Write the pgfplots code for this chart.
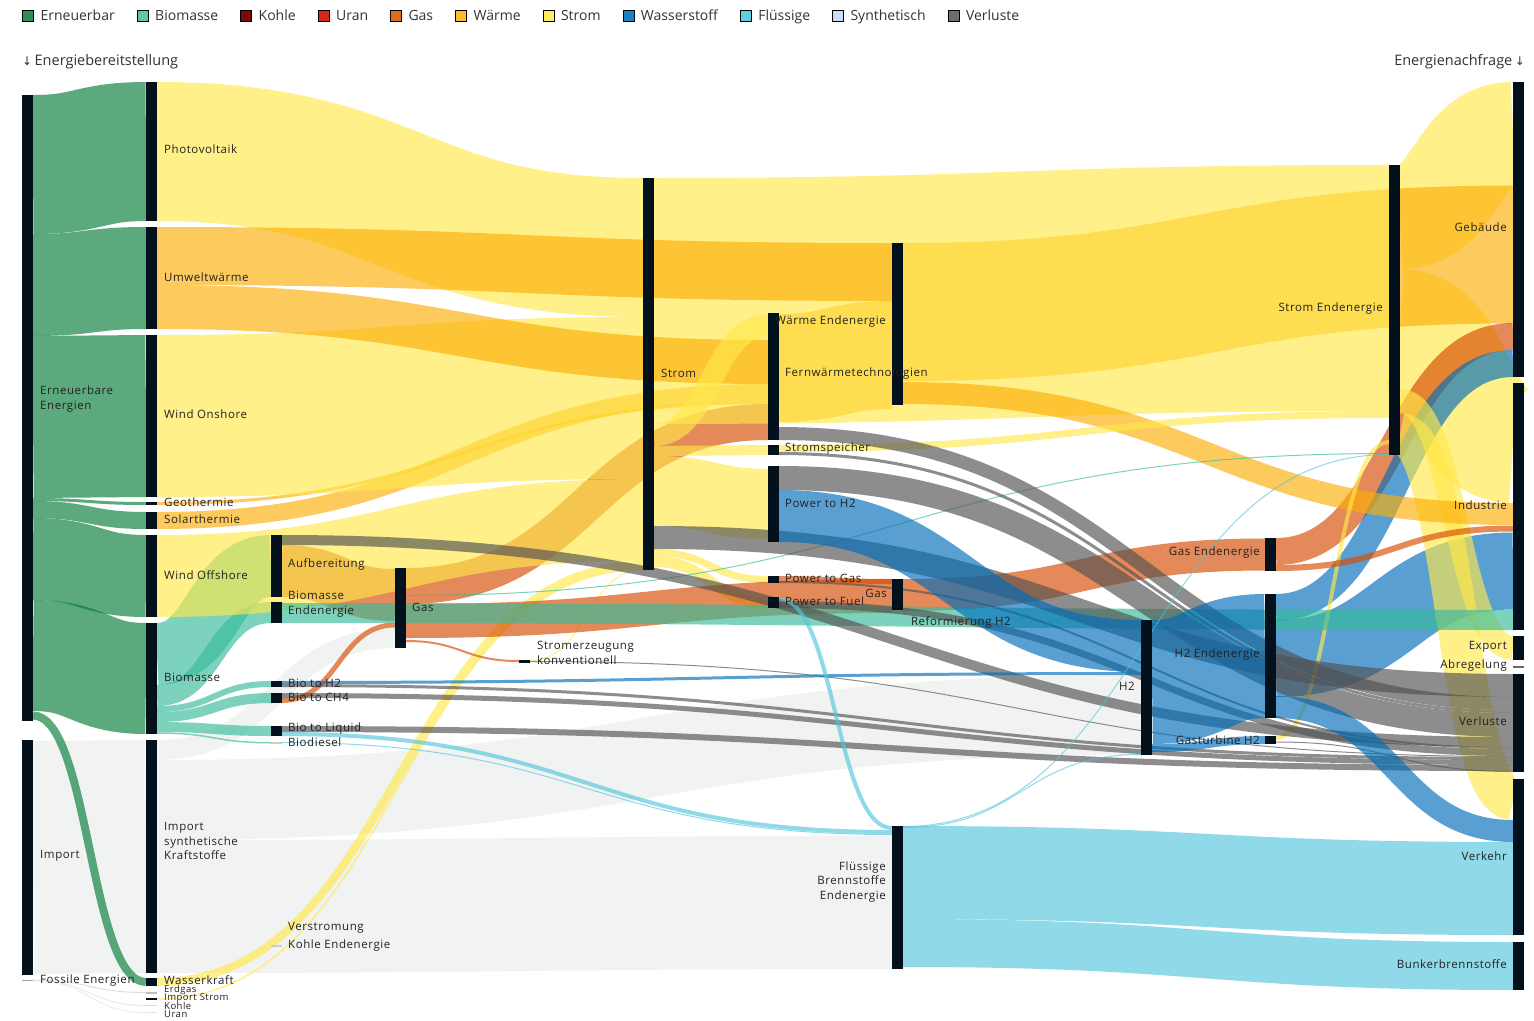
\documentclass[border=0pt]{standalone}
\usepackage{fontspec}
\setmainfont{Open Sans}
\newfontfamily\labfont[LetterSpace=5]{Open Sans}
\newfontfamily\symfont{DejaVu Sans}
\usepackage{pgfplots}
\pgfplotsset{compat=1.18}
% link colours (base colours, drawn with opacity 0.65)
\definecolor{cgr}{HTML}{047C37}
\definecolor{cbio}{HTML}{37BB9B}
\definecolor{cyel}{HTML}{FFE84B}
\definecolor{cwar}{HTML}{FDAF07}
\definecolor{cgas}{HTML}{D74B00}
\definecolor{ch2}{HTML}{006DBB}
\definecolor{cfl}{HTML}{53C6DC}
\definecolor{csyn}{HTML}{EAEEEC}
\definecolor{cver}{HTML}{515151}
% legend colours
\definecolor{lErn}{HTML}{2E8B57}
\definecolor{lBio}{HTML}{5CC8A8}
\definecolor{lKoh}{HTML}{7A0A0A}
\definecolor{lUra}{HTML}{D7261E}
\definecolor{lGas}{HTML}{E06B1A}
\definecolor{lWar}{HTML}{FDBA2C}
\definecolor{lStr}{HTML}{FFEB5C}
\definecolor{lWas}{HTML}{1F7FC4}
\definecolor{lFlu}{HTML}{62CDE0}
\definecolor{lSyn}{HTML}{C8DEF7}
\definecolor{lVer}{HTML}{6D6D6D}
\definecolor{nodec}{HTML}{03111C}
\definecolor{txt}{HTML}{333333}
\definecolor{labc}{HTML}{222222}
% plot handler: horizontal S-curves between successive points (sankey links)
\makeatletter
\def\pgfplothandlersankey{%
  \def\pgf@plotstreamstart{%
    \global\let\pgf@plotstreampoint=\sk@first
    \global\let\pgf@plotstreamspecial=\pgfutil@gobble
    \global\let\pgf@plotstreamjump=\sk@jump
    \global\let\pgf@plotstreamend=\relax
  }%
}
\def\sk@jump{\global\let\pgf@plotstreampoint=\sk@first}
\def\sk@first#1{%
  #1%
  \xdef\sk@lastx{\the\pgf@x}\xdef\sk@lasty{\the\pgf@y}%
  \pgf@plot@first@action{\pgfqpoint{\sk@lastx}{\sk@lasty}}%
  \global\let\pgf@plotstreampoint=\sk@next
}
\def\sk@next#1{%
  #1%
  \edef\sk@x{\the\pgf@x}\edef\sk@y{\the\pgf@y}%
  \pgf@xa=\sk@lastx\relax
  \advance\pgf@xa by \sk@x\relax
  \pgf@xa=0.5\pgf@xa
  \edef\sk@mx{\the\pgf@xa}%
  \pgfpathcurveto{\pgfqpoint{\sk@mx}{\sk@lasty}}{\pgfqpoint{\sk@mx}{\sk@y}}{\pgfqpoint{\sk@x}{\sk@y}}%
  \global\let\sk@lastx=\sk@x
  \global\let\sk@lasty=\sk@y
}
\tikzset{sankey/.code={\let\tikz@plot@handler=\pgfplothandlersankey}}
\makeatother
% a link: stroke from (source x, centre y) to (target x, centre y); line width = flow in px
\pgfplotsset{
  lnk/.style={forget plot, sankey, draw=#1, draw opacity=0.65, fill=none, line cap=butt, /tikz/overlay},
  bar/.style={forget plot, sharp plot, draw=none, fill=#1},
  bar/.default=nodec,
}
\tikzset{
  lab/.style={inner sep=0pt, font=\labfont\fontsize{11.5}{14.5}\selectfont, text=labc},
  labl/.style={lab, anchor=west, align=left},
  labr/.style={lab, anchor=east, align=right},
  labs/.style={lab, anchor=west, font=\labfont\fontsize{9.5}{11}\selectfont},
}
\begin{document}
\begin{tikzpicture}
\begin{axis}[
  width=1534pt, height=1020pt, scale only axis,
  xmin=0, xmax=1534, ymin=0, ymax=1020, y dir=reverse,
  hide axis, clip=false,
  legend style={at={(axis cs:22,16)}, anchor=west, draw=none, fill=none,
    font=\fontsize{14}{16}\selectfont, text=txt, inner sep=0pt,
    nodes={inner sep=0pt}, column sep=0pt},
  legend columns=-1,
  legend cell align=left,
  /tikz/every even column/.append style={column sep=22pt},
  legend image code/.code={\fill[#1] (0pt,-5.5pt) rectangle (11pt,5.5pt); \path (18pt,0pt);},
]
% background
\addplot[forget plot, sharp plot, fill=white, draw=none] coordinates {(0,0) (1534,0) (1534,1020) (0,1020)} --cycle;

% legend
\addlegendimage{fill=lErn}\addlegendentry{Erneuerbar}
\addlegendimage{fill=lBio}\addlegendentry{Biomasse}
\addlegendimage{fill=lKoh}\addlegendentry{Kohle}
\addlegendimage{fill=lUra}\addlegendentry{Uran}
\addlegendimage{fill=lGas}\addlegendentry{Gas}
\addlegendimage{fill=lWar}\addlegendentry{Wärme}
\addlegendimage{fill=lStr}\addlegendentry{Strom}
\addlegendimage{fill=lWas}\addlegendentry{Wasserstoff}
\addlegendimage{fill=lFlu}\addlegendentry{Flüssige}
\addlegendimage{fill=lSyn}\addlegendentry{Synthetisch}
\addlegendimage{fill=lVer}\addlegendentry{Verluste}

% ---------- Import (synthetisch)
\addplot[lnk=csyn, line width=233pt] coordinates {(33,857.5) (146,856.5)};
\addplot[lnk=csyn, line width=20pt] coordinates {(157,750) (395,638)};
\addplot[lnk=csyn, line width=80pt] coordinates {(157,800) (1141,715)};
\addplot[lnk=csyn, line width=133pt] coordinates {(157,906.5) (892,902.5)};
\addplot[lnk=black!20, line width=1pt] coordinates {(33,980) (146,992.5)};
\addplot[lnk=black!12, line width=1pt] coordinates {(33,980.5) (146,1005.5)};
\addplot[lnk=black!10, line width=1pt] coordinates {(33,980.8) (146,1012.5)};

% ---------- Erneuerbare Energien -> primary carriers
\addplot[lnk=cgr, line width=139pt] coordinates {(33,164.5) (146,151.5)};
\addplot[lnk=cgr, line width=102pt] coordinates {(33,285) (146,278)};
\addplot[lnk=cgr, line width=162pt] coordinates {(33,417) (146,416)};
\addplot[lnk=cgr, line width=3pt] coordinates {(33,499.5) (146,503.5)};
\addplot[lnk=cgr, line width=17pt] coordinates {(33,509.5) (146,520.5)};
\addplot[lnk=cgr, line width=82pt] coordinates {(33,559) (146,576)};
\addplot[lnk=cgr, line width=111pt] coordinates {(33,655.5) (146,678.5)};
\addplot[lnk=cgr, line width=8pt] coordinates {(33,715.5) (146,982)};

% ---------- final demand (lower layers)
\addplot[lnk=cyel, line width=104pt] coordinates {(1400,217) (1513,134)};
\addplot[lnk=cyel, line width=120pt] coordinates {(1400,329) (1513,443)};
\addplot[lnk=cwar, line width=138pt] coordinates {(903,312) (1513,254.5)};
\addplot[lnk=cgas, line width=27pt] coordinates {(1276,551.5) (1513,336.5)};
\addplot[lnk=ch2, line width=27pt] coordinates {(1276,607.5) (1513,363.5)};
\addplot[lnk=ch2, line width=77pt] coordinates {(1276,658.5) (1513,571)};
\addplot[lnk=cyel, line width=24pt] coordinates {(1400,401) (1513,648)};
\addplot[lnk=cyel, line width=41pt] coordinates {(1400,434) (1513,799.5)};

% ---------- heat (lower layers)
\addplot[lnk=cwar, line width=108pt] coordinates {(779,368) (892,355)};
\addplot[lnk=cwar, line width=17pt] coordinates {(157,520.5) (768,392.5)};
\addplot[lnk=cwar, line width=3pt] coordinates {(157,503.5) (768,402.5)};
\addplot[lnk=cgas, line width=36pt] coordinates {(406,586) (768,422)};
\addplot[lnk=cgas, line width=52pt] coordinates {(282,571) (395,595)};

% ---------- Biomasse
\addplot[lnk=cbio, line width=62pt] coordinates {(157,654) (271,566)};
\addplot[lnk=cbio, line width=21pt] coordinates {(157,695.5) (271,612.5)};
\addplot[lnk=cbio, line width=6pt] coordinates {(157,709) (271,684)};
\addplot[lnk=cbio, line width=10pt] coordinates {(157,717) (271,698)};
\addplot[lnk=cbio, line width=10pt] coordinates {(157,727) (271,731)};
\addplot[lnk=cbio, line width=1.5pt] coordinates {(157,733) (271,742.75)};

% ---------- electricity generation -> Strom
\addplot[lnk=cyel, line width=139pt] coordinates {(157,151.5) (643,247.5)};
\addplot[lnk=cyel, line width=162pt] coordinates {(157,416) (643,398)};
\addplot[lnk=cyel, line width=82pt] coordinates {(157,576) (643,520)};
\addplot[lnk=cyel, line width=8pt] coordinates {(157,982) (643,565)};
\addplot[lnk=cyel, line width=1.5pt] coordinates {(157,999) (643,569.5)};
\addplot[lnk=cyel, line width=1pt] coordinates {(530,660.5) (643,569.8)};

% ---------- Strom -> Strom Endenergie
\addplot[lnk=cyel, line width=246pt] coordinates {(654,301) (1389,288)};

% ---------- Umweltwaerme (upper layer)
\addplot[lnk=cwar, line width=58pt] coordinates {(157,256) (892,272)};
\addplot[lnk=cwar, line width=44pt] coordinates {(157,307) (768,362)};
\addplot[lnk=cwar, line width=22pt] coordinates {(903,393) (1513,514)};

% ---------- Strom -> conversion
\addplot[lnk=cyel, line width=22pt] coordinates {(654,435) (768,325.5)};
\addplot[lnk=cyel, line width=10pt] coordinates {(654,451) (768,450)};
\addplot[lnk=cyel, line width=70pt] coordinates {(654,491) (768,504)};
\addplot[lnk=cyel, line width=7pt] coordinates {(654,552.5) (768,579.5)};
\addplot[lnk=cyel, line width=11pt] coordinates {(654,561.5) (768,602.5)};
\addplot[lnk=cyel, line width=7pt] coordinates {(779,448.5) (1389,414.5)};
\addplot[lnk=cyel, line width=4pt] coordinates {(1276,738) (1389,442)};

% ---------- Gas
\addplot[lnk=cgas, line width=5pt] coordinates {(282,700.5) (395,625)};
\addplot[lnk=cgas, line width=34pt] coordinates {(406,621) (892,596)};
\addplot[lnk=cgas, line width=2pt] coordinates {(406,641) (519,661)};
\addplot[lnk=cgas, line width=5pt] coordinates {(779,578.5) (892,581.5)};
\addplot[lnk=cgas, line width=32pt] coordinates {(903,595) (1265,554.5)};
\addplot[lnk=cgas, line width=6pt] coordinates {(1276,568) (1513,528.5)};

% ---------- Biomasse Endenergie -> Industrie
\addplot[lnk=cbio, line width=20pt] coordinates {(282,613) (1513,620)};
\addplot[lnk=cbio, line width=1pt] coordinates {(406,595.5) (1389,453.5)};

% ---------- Verluste
\addplot[lnk=cver, line width=23pt] coordinates {(654,537.5) (1513,685.5)};
\addplot[lnk=cver, line width=13pt] coordinates {(779,433.5) (1513,703.5)};
\addplot[lnk=cver, line width=3pt] coordinates {(779,453.5) (1513,711.5)};
\addplot[lnk=cver, line width=24pt] coordinates {(779,478) (1513,725)};
\addplot[lnk=cver, line width=10pt] coordinates {(282,540) (1513,742)};
\addplot[lnk=cver, line width=2pt] coordinates {(779,582) (1513,748)};
\addplot[lnk=cver, line width=7pt] coordinates {(779,604.5) (1513,752.5)};
\addplot[lnk=cver, line width=1pt] coordinates {(530,661.5) (1513,756.5)};
\addplot[lnk=cver, line width=3pt] coordinates {(282,685.5) (1513,758.5)};
\addplot[lnk=cver, line width=5pt] coordinates {(282,695.5) (1513,762.5)};
\addplot[lnk=cver, line width=6pt] coordinates {(282,729) (1513,768)};
\addplot[lnk=cver, line width=1pt] coordinates {(1276,742) (1513,771.5)};

% ---------- Wasserstoff
\addplot[lnk=ch2, line width=3pt] coordinates {(282,682.5) (1141,673.5)};
\addplot[lnk=ch2, line width=52pt] coordinates {(779,516) (1141,646)};
\addplot[lnk=ch2, line width=124pt] coordinates {(1152,682) (1265,656)};
\addplot[lnk=ch2, line width=8pt] coordinates {(1152,748) (1265,740)};
\addplot[lnk=ch2, line width=22pt] coordinates {(1276,707) (1513,831)};

% ---------- Fluessige
\addplot[lnk=cfl, line width=4pt] coordinates {(779,599) (892,828)};
\addplot[lnk=cfl, line width=4pt] coordinates {(282,734) (892,832)};
\addplot[lnk=cfl, line width=1pt] coordinates {(282,742.5) (892,834.5)};
\addplot[lnk=cfl, line width=93pt] coordinates {(903,872.5) (1513,888.5)};
\addplot[lnk=cfl, line width=48pt] coordinates {(903,943) (1513,966)};
\addplot[lnk=cfl, line width=1pt] coordinates {(903,826.5) (1389,454.5)};
\addplot[lnk=cfl, line width=1pt] coordinates {(903,827.5) (1141,754.5)};

% ---------- nodes
\addplot[bar] coordinates {(22,95) (33,95) (33,721) (22,721)} --cycle;
\addplot[bar] coordinates {(22,740) (33,740) (33,975) (22,975)} --cycle;
\addplot[bar=black!35] coordinates {(22,979.5) (33,979.5) (33,981) (22,981)} --cycle;
\addplot[bar] coordinates {(146,82) (157,82) (157,221) (146,221)} --cycle;
\addplot[bar] coordinates {(146,227) (157,227) (157,329) (146,329)} --cycle;
\addplot[bar] coordinates {(146,335) (157,335) (157,497) (146,497)} --cycle;
\addplot[bar] coordinates {(146,502) (157,502) (157,505) (146,505)} --cycle;
\addplot[bar] coordinates {(146,512) (157,512) (157,529) (146,529)} --cycle;
\addplot[bar] coordinates {(146,535) (157,535) (157,617) (146,617)} --cycle;
\addplot[bar] coordinates {(146,623) (157,623) (157,734) (146,734)} --cycle;
\addplot[bar] coordinates {(146,740) (157,740) (157,973) (146,973)} --cycle;
\addplot[bar] coordinates {(146,978) (157,978) (157,986) (146,986)} --cycle;
\addplot[bar=black!25] coordinates {(146,992) (157,992) (157,993.5) (146,993.5)} --cycle;
\addplot[bar] coordinates {(146,997.5) (157,997.5) (157,999.5) (146,999.5)} --cycle;
\addplot[bar=black!15] coordinates {(146,1005) (157,1005) (157,1006) (146,1006)} --cycle;
\addplot[bar=black!12] coordinates {(146,1012) (157,1012) (157,1013) (146,1013)} --cycle;
\addplot[bar] coordinates {(271,535) (282,535) (282,597) (271,597)} --cycle;
\addplot[bar] coordinates {(271,602) (282,602) (282,623) (271,623)} --cycle;
\addplot[bar] coordinates {(271,681) (282,681) (282,687) (271,687)} --cycle;
\addplot[bar] coordinates {(271,693) (282,693) (282,703) (271,703)} --cycle;
\addplot[bar] coordinates {(271,726) (282,726) (282,736) (271,736)} --cycle;
\addplot[bar=black!20] coordinates {(271,742) (282,742) (282,743.5) (271,743.5)} --cycle;
\addplot[bar=black!20] coordinates {(271,945) (282,945) (282,946.5) (271,946.5)} --cycle;
\addplot[bar] coordinates {(395,568) (406,568) (406,648) (395,648)} --cycle;
\addplot[bar] coordinates {(519,660) (530,660) (530,662.5) (519,662.5)} --cycle;
\addplot[bar] coordinates {(643,178) (654,178) (654,570) (643,570)} --cycle;
\addplot[bar] coordinates {(768,313) (779,313) (779,440) (768,440)} --cycle;
\addplot[bar] coordinates {(768,445) (779,445) (779,455) (768,455)} --cycle;
\addplot[bar] coordinates {(768,466) (779,466) (779,542) (768,542)} --cycle;
\addplot[bar] coordinates {(768,576) (779,576) (779,583) (768,583)} --cycle;
\addplot[bar] coordinates {(768,597) (779,597) (779,608) (768,608)} --cycle;
\addplot[bar] coordinates {(892,243) (903,243) (903,405) (892,405)} --cycle;
\addplot[bar] coordinates {(892,579) (903,579) (903,610) (892,610)} --cycle;
\addplot[bar] coordinates {(892,826) (903,826) (903,969) (892,969)} --cycle;
\addplot[bar] coordinates {(1141,620) (1152,620) (1152,755) (1141,755)} --cycle;
\addplot[bar] coordinates {(1265,538) (1276,538) (1276,571) (1265,571)} --cycle;
\addplot[bar] coordinates {(1265,594) (1276,594) (1276,718) (1265,718)} --cycle;
\addplot[bar] coordinates {(1265,736) (1276,736) (1276,744) (1265,744)} --cycle;
\addplot[bar] coordinates {(1389,165) (1400,165) (1400,455) (1389,455)} --cycle;
\addplot[bar] coordinates {(1513,82) (1524,82) (1524,377) (1513,377)} --cycle;
\addplot[bar] coordinates {(1513,383) (1524,383) (1524,630) (1513,630)} --cycle;
\addplot[bar] coordinates {(1513,636) (1524,636) (1524,660) (1513,660)} --cycle;
\addplot[bar=black!60] coordinates {(1513,666) (1524,666) (1524,668) (1513,668)} --cycle;
\addplot[bar] coordinates {(1513,674) (1524,674) (1524,772) (1513,772)} --cycle;
\addplot[bar] coordinates {(1513,779) (1524,779) (1524,935) (1513,935)} --cycle;
\addplot[bar] coordinates {(1513,942) (1524,942) (1524,990) (1513,990)} --cycle;

% ---------- headers
\node[anchor=west, inner sep=0pt, font=\fontsize{14.5}{16}\selectfont, text=txt] at (axis cs:22,62) {{\symfont\fontsize{12}{14}\selectfont ↓}\,Energiebereitstellung};
\node[anchor=east, inner sep=0pt, font=\fontsize{14.5}{16}\selectfont, text=txt] at (axis cs:1525,62) {Energienachfrage\,{\symfont\fontsize{12}{14}\selectfont ↓}};

% ---------- node labels
\node[labl] at (axis cs:40,399) {Erneuerbare\\Energien};
\node[labl] at (axis cs:40,856) {Import};
\node[labl] at (axis cs:40,980) {Fossile Energien};
\node[labl] at (axis cs:164,149) {Photovoltaik};
\node[labl] at (axis cs:164,277) {Umweltwärme};
\node[labl] at (axis cs:164,414) {Wind Onshore};
\node[labl] at (axis cs:164,502) {Geothermie};
\node[labl] at (axis cs:164,519) {Solarthermie};
\node[labl] at (axis cs:164,575) {Wind Offshore};
\node[labl] at (axis cs:164,677) {Biomasse};
\node[labl] at (axis cs:164,841) {Import\\synthetische\\Kraftstoffe};
\node[labl] at (axis cs:164,980.5) {Wasserkraft};
\node[labs] at (axis cs:164,990) {Erdgas};
\node[labs] at (axis cs:164,998) {Import Strom};
\node[labs] at (axis cs:164,1006) {Kohle};
\node[labs] at (axis cs:164,1014) {Uran};
\node[labl] at (axis cs:288,564) {Aufbereitung};
\node[labl] at (axis cs:288,604) {Biomasse\\Endenergie};
\node[labl] at (axis cs:288,683) {Bio to H2};
\node[labl] at (axis cs:288,697) {Bio to CH4};
\node[labl] at (axis cs:288,729) {Bio to Liquid};
\node[labl] at (axis cs:288,742) {Biodiesel};
\node[labl] at (axis cs:288,928) {Verstromung};
\node[labl] at (axis cs:288,945) {Kohle Endenergie};
\node[labl] at (axis cs:412,607) {Gas};
\node[labl] at (axis cs:537,653) {Stromerzeugung\\konventionell};
\node[labl] at (axis cs:661,373) {Strom};
\node[labl] at (axis cs:785,374) {Fernwärmetechnologien};
\node[labl] at (axis cs:785,449) {Stromspeicher};
\node[labl] at (axis cs:785,503) {Power to H2};
\node[labl] at (axis cs:785,578) {Power to Gas};
\node[labl] at (axis cs:785,601) {Power to Fuel};
\node[labr] at (axis cs:886,322) {Wärme Endenergie};
\node[labr] at (axis cs:887,593) {Gas};
\node[labr] at (axis cs:886,882) {Flüssige\\Brennstoffe\\Endenergie};
\node[labr] at (axis cs:1011,622) {Reformierung H2};
\node[labr] at (axis cs:1135,686) {H2};
\node[labr] at (axis cs:1260,553) {Gas Endenergie};
\node[labr] at (axis cs:1260,655) {H2 Endenergie};
\node[labr] at (axis cs:1260,740) {Gasturbine H2};
\node[labr] at (axis cs:1383,309) {Strom Endenergie};
\node[labr] at (axis cs:1507,227) {Gebäude};
\node[labr] at (axis cs:1507,505) {Industrie};
\node[labr] at (axis cs:1507,647) {Export};
\node[labr] at (axis cs:1507,666) {Abregelung};
\node[labr] at (axis cs:1507,721) {Verluste};
\node[labr] at (axis cs:1507,856) {Verkehr};
\node[labr] at (axis cs:1507,964) {Bunkerbrennstoffe};
\end{axis}
\end{tikzpicture}
\end{document}
